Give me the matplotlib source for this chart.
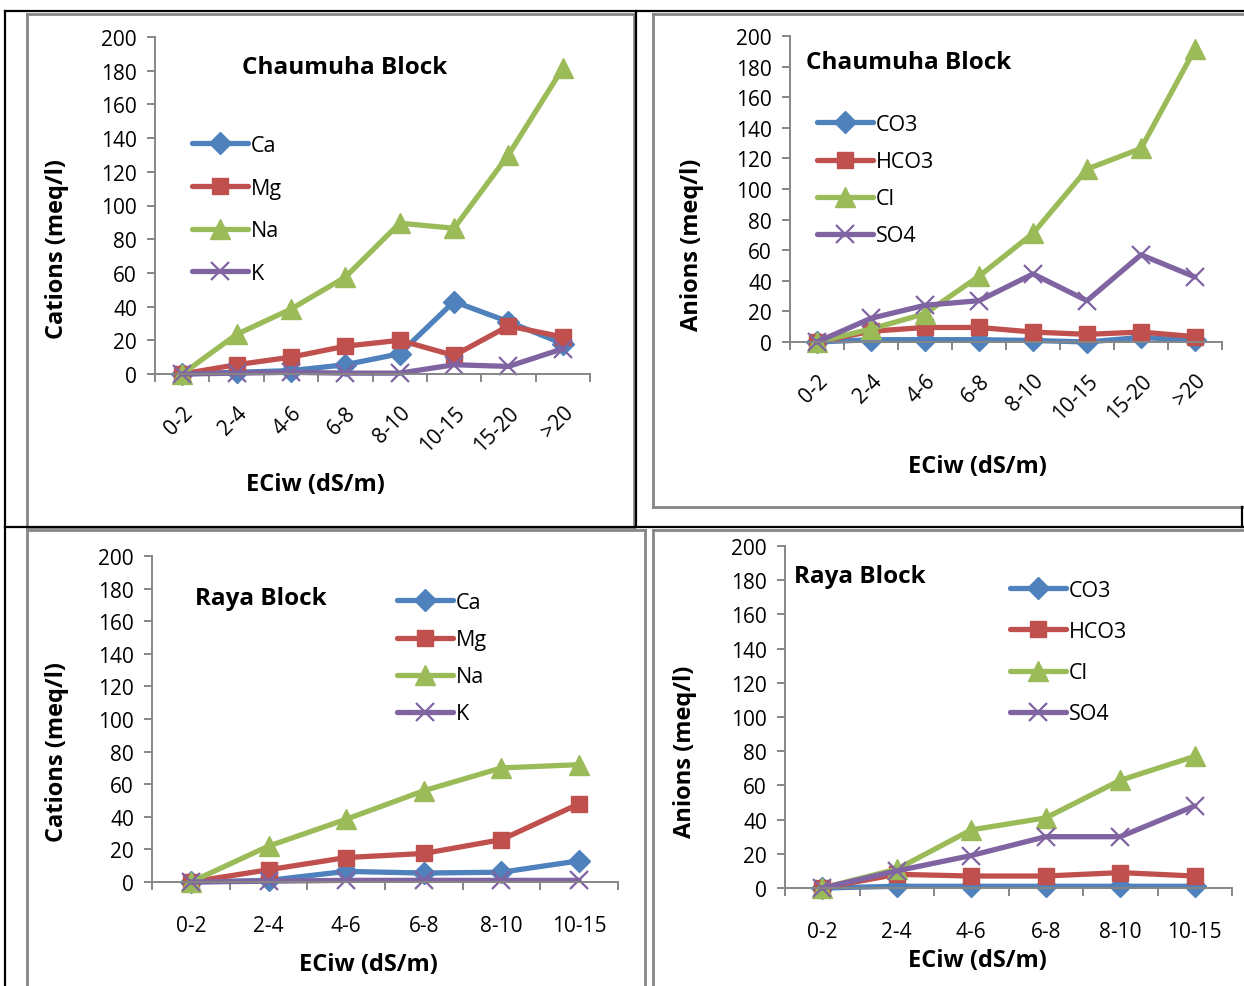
import matplotlib
matplotlib.use('Agg')
import matplotlib.pyplot as plt
from matplotlib.lines import Line2D

W, H = 1244, 987
plt.rcParams['font.family'] = ['Open Sans', 'DejaVu Sans']

# ---------------- data ----------------
cat_ch = ['0-2', '2-4', '4-6', '6-8', '8-10', '10-15', '15-20', '>20']
cat_raya = ['0-2', '2-4', '4-6', '6-8', '8-10', '10-15']

cation_names = ['Ca', 'Mg', 'Na', 'K']
anion_names = ['CO3', 'HCO3', 'Cl', 'SO4']

ch_ca = [0, 1, 2, 5.5, 12, 43, 31, 18]
ch_mg = [0, 5.5, 10, 16.5, 20, 11, 28.5, 22]
ch_na = [0, 23.5, 38.5, 57.5, 89.5, 86.5, 130, 181.5]
ch_k = [0, 0.5, 1, 0.5, 0.5, 5.5, 4.5, 15]

ch_co3 = [0, 1.5, 1.5, 1.5, 1, 0, 3, 1]
ch_hco3 = [0, 7, 9.5, 9.5, 6.5, 5, 6.5, 3.5]
ch_cl = [0, 8.5, 18.5, 43, 71, 113, 126.5, 191.5]
ch_so4 = [0, 15.5, 24, 27, 44.5, 27, 57, 42.5]

ra_ca = [0, 1, 6.5, 5.5, 6, 13]
ra_mg = [0, 7.5, 15, 17.5, 26, 48]
ra_na = [0, 22, 38.5, 56, 70, 72]
ra_k = [0, 0.5, 1, 1, 1, 1]

ra_co3 = [0, 1, 1, 1, 1, 1]
ra_hco3 = [0, 8, 7, 7, 9, 7]
ra_cl = [0, 11, 34, 41, 63, 77]
ra_so4 = [0, 10, 19, 30, 30, 48]

# ---------------- style ----------------
colors = ['#4F81BD', '#C0504D', '#9BBB59', '#8064A2']
markers = ['D', 's', '^', 'x']
msizes = [11, 12, 14, 13]
GRAY = '#868686'
TICK_FS = 15
LAB_FS = 17
TITLE_FS = 17.5
LEG_FS = 15.5

fig = plt.figure(figsize=(W / 100, H / 100), dpi=100)


def fx(x):
    return x / W


def fy(y):
    return 1 - y / H


def panel(box, cats, series, names, ylabel, title, title_xy, ylabel_xy,
          xlabel_xy, leg_xy, leg_space, rotate):
    x0, x1, yt, yb = box
    ax = fig.add_axes([fx(x0), fy(yb), (x1 - x0) / W, (yb - yt) / H])
    n = len(cats)
    xs = list(range(n))
    handles = []
    for vals, c, m, ms in zip(series, colors, markers, msizes):
        ln, = ax.plot(xs, vals, color=c, lw=3.8, marker=m, ms=ms,
                      mfc=c, mec=c, mew=1.6 if m == 'x' else 1,
                      clip_on=False, solid_joinstyle='round',
                      solid_capstyle='round')
        handles.append(ln)
    ax.set_xlim(-0.5, n - 0.5)
    ax.set_ylim(0, 200)
    ax.set_yticks(range(0, 201, 20))
    ax.set_xticks(xs)
    ax.set_xticks([i - 0.5 for i in range(n + 1)], minor=True)
    ax.set_xticklabels(cats)
    for s in ['top', 'right']:
        ax.spines[s].set_visible(False)
    for s in ['left', 'bottom']:
        ax.spines[s].set_color(GRAY)
        ax.spines[s].set_linewidth(1.4)
    ax.tick_params(axis='y', direction='out', length=6, width=1.4,
                   color=GRAY, labelsize=TICK_FS, pad=7)
    ax.tick_params(axis='x', which='major', length=0, labelsize=TICK_FS)
    ax.tick_params(axis='x', which='minor', direction='out', length=6,
                   width=1.4, color=GRAY)
    if rotate:
        ax.tick_params(axis='x', which='major', pad=20)
        for lbl in ax.get_xticklabels():
            lbl.set_rotation(45)
            lbl.set_ha('right')
            lbl.set_va('top')
            lbl.set_rotation_mode('anchor')
    else:
        ax.tick_params(axis='x', which='major', pad=24)
    fig.text(fx(title_xy[0]), fy(title_xy[1]), title, fontsize=TITLE_FS,
             fontweight='bold', ha='center', va='center')
    fig.text(fx(ylabel_xy[0]), fy(ylabel_xy[1]), ylabel, fontsize=LAB_FS,
             fontweight='bold', ha='center', va='center', rotation=90)
    fig.text(fx(xlabel_xy[0]), fy(xlabel_xy[1]), 'ECiw (dS/m)',
             fontsize=LAB_FS, fontweight='bold', ha='center', va='center')
    ax.legend(handles, names, loc='upper left',
              bbox_to_anchor=(fx(leg_xy[0]), fy(leg_xy[1])),
              bbox_transform=fig.transFigure, frameon=False,
              fontsize=LEG_FS, handlelength=2.6, handletextpad=0.15,
              labelspacing=leg_space, borderpad=0, borderaxespad=0,
              numpoints=1)
    return ax


panel((155, 590, 38, 375), cat_ch, [ch_ca, ch_mg, ch_na, ch_k],
      cation_names, 'Cations (meq/l)', 'Chaumuha Block', (345, 68),
      (57, 249), (315, 485), (192, 136), 1.0, True)
panel((790, 1222, 37, 343), cat_ch, [ch_co3, ch_hco3, ch_cl, ch_so4],
      anion_names, 'Anions (meq/l)', 'Chaumuha Block', (909, 63),
      (692, 245), (977, 467), (817, 115), 0.75, True)
panel((152, 618, 557, 883), cat_raya, [ra_ca, ra_mg, ra_na, ra_k],
      cation_names, 'Cations (meq/l)', 'Raya Block', (261, 599),
      (57, 752), (368, 965), (397, 593), 0.75, False)
panel((785, 1232, 547, 889), cat_raya, [ra_co3, ra_hco3, ra_cl, ra_so4],
      anion_names, 'Anions (meq/l)', 'Raya Block', (860, 577),
      (685, 752), (977, 961), (1010, 581), 0.93, False)

# ---------------- panel frames ----------------
def seg(xa, ya, xb, yb, color, lw):
    fig.add_artist(Line2D([fx(xa), fx(xb)], [fy(ya), fy(yb)], color=color,
                          lw=lw, transform=fig.transFigure))

# gray borders
seg(27, 15, 634, 15, GRAY, 2); seg(27, 15, 27, 528, GRAY, 2)
seg(634, 15, 634, 528, GRAY, 2); seg(27, 528, 634, 528, GRAY, 2)
seg(653, 15, 1244, 15, GRAY, 2); seg(653, 15, 653, 508, GRAY, 2)
seg(653, 508, 1244, 508, GRAY, 2)
seg(27, 531, 645, 531, GRAY, 2); seg(27, 531, 27, 987, GRAY, 2)
seg(645, 531, 645, 987, GRAY, 2)
seg(653, 531, 1244, 531, GRAY, 2); seg(653, 531, 653, 987, GRAY, 2)
# black outer lines
seg(5, 12, 1244, 12, 'black', 1.6); seg(5, 12, 5, 987, 'black', 1.6)
seg(636, 12, 636, 528, 'black', 1.6); seg(5, 528, 1244, 528, 'black', 1.6)
seg(1242, 508, 1242, 528, 'black', 1.6)

fig.savefig('out.png', dpi=100)
